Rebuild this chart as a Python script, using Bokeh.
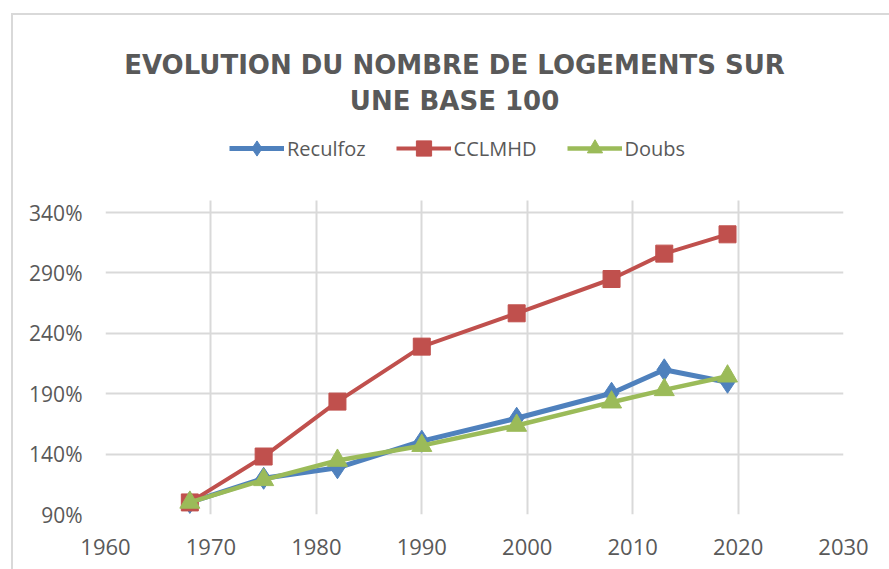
from bokeh.plotting import figure
from bokeh.models import FixedTicker, Legend, LegendItem, Label, Range1d
from bokeh.embed import file_html
from bokeh.resources import INLINE

years = [1968, 1975, 1982, 1990, 1999, 2008, 2013, 2019]
reculfoz = [100, 120, 128.7, 150.7, 169.7, 190.4, 209.8, 199.5]
cclmhd = [100, 138, 183.5, 229, 256.6, 285, 306, 322]
doubs = [100, 118.7, 134.7, 147, 163.7, 183, 193.2, 204.5]

x_ticks = [1960, 1970, 1980, 1990, 2000, 2010, 2020, 2030]
y_ticks = [90, 140, 190, 240, 290, 340]
y_tick_labels = ["90%", "140%", "190%", "240%", "290%", "340%"]
title_lines = ["EVOLUTION DU NOMBRE DE LOGEMENTS SUR", "UNE BASE 100"]
series_names = ["Reculfoz", "CCLMHD", "Doubs"]

BLUE = "#4F81BD"
RED = "#C0504D"
GREEN = "#9BBB59"
GRID = "#d9d9d9"
TEXT = "#595959"
W, H = 889, 569

# layout geometry (pixels)
FL, FR, FB = 105, 843, 514          # frame left / right / bottom
AX_TOP = 200                        # top of the gridded plot area
X0, X1 = 1960, 2030
Y0, Y1 = 90, 350
y_per_px = (Y1 - Y0) / (FB - AX_TOP)
x_per_px = (X1 - X0) / (FR - FL)
y_top = Y0 + FB * y_per_px          # frame extends to top of canvas


def dx(px):
    return X0 + (px - FL) * x_per_px


def dy(py):
    return Y0 + (FB - py) * y_per_px


p = figure(width=W, height=H, output_backend="svg", toolbar_location=None, title=None,
           x_range=Range1d(X0, X1), y_range=Range1d(Y0, y_top),
           min_border_left=FL, min_border_right=W - FR, min_border_top=0,
           min_border_bottom=H - FB)
p.outline_line_color = None
p.background_fill_color = None
p.border_fill_color = None
p.styles = {
    "background": ("linear-gradient(#d9d9d9, #d9d9d9) 11px 13px / 100% 2px no-repeat, "
                   "linear-gradient(#d9d9d9, #d9d9d9) 11px 13px / 2px 100% no-repeat, white"),
}

p.xaxis.ticker = FixedTicker(ticks=x_ticks)
p.yaxis.ticker = FixedTicker(ticks=y_ticks)
p.yaxis.major_label_overrides = {t: l for t, l in zip(y_ticks, y_tick_labels)}
for ax in (p.xaxis, p.yaxis):
    ax.axis_line_color = None
    ax.major_tick_line_color = None
    ax.minor_tick_line_color = None
    ax.major_label_text_color = TEXT
    ax.major_label_text_font = "Open Sans"
p.xaxis.major_label_text_font_size = "22px"
p.yaxis.major_label_text_font_size = "21px"
p.xaxis.major_label_standoff = 18
p.yaxis.major_label_standoff = 17

p.xgrid.ticker = FixedTicker(ticks=x_ticks)
p.ygrid.ticker = FixedTicker(ticks=y_ticks)
for g in (p.xgrid, p.ygrid):
    g.grid_line_color = GRID
    g.grid_line_width = 2
xg = p.xgrid[0]
if "cross_bounds" in xg.properties():
    xg.cross_bounds = (Y0, Y1)
else:
    xg.grid_line_color = None
    p.segment(x0=x_ticks, y0=[Y0] * len(x_ticks), x1=x_ticks, y1=[Y1] * len(x_ticks),
              line_color=GRID, line_width=2)

l1 = p.line(years, reculfoz, line_color=BLUE, line_width=5)
m1 = p.scatter(years, reculfoz, marker="diamond", size=22, fill_color=BLUE, line_color=BLUE)
l2 = p.line(years, cclmhd, line_color=RED, line_width=4)
m2 = p.scatter(years, cclmhd, marker="square", size=17, fill_color=RED, line_color=RED)
l3 = p.line(years, doubs, line_color=GREEN, line_width=4.5)
m3 = p.scatter(years, doubs, marker="triangle", size=20, fill_color=GREEN, line_color=GREEN)

GH = 38
legend = Legend(items=[LegendItem(label=series_names[0], renderers=[l1, m1]),
                       LegendItem(label=series_names[1], renderers=[l2, m2]),
                       LegendItem(label=series_names[2], renderers=[l3, m3])],
                orientation="horizontal", location=(229 - FL, FB - 148 - GH / 2),
                border_line_color=None, background_fill_alpha=0,
                label_text_font="Open Sans", label_text_font_size="20px",
                label_text_color=TEXT, glyph_width=55, glyph_height=GH,
                label_standoff=3, spacing=30, margin=0, padding=0)
p.add_layout(legend)

for txt, cy in zip(title_lines, [64, 100]):
    p.add_layout(Label(x=dx(454), y=dy(cy), text=txt, text_align="center",
                       text_baseline="middle", text_font="DejaVu Sans",
                       text_font_style="bold", text_font_size="26px", text_color=TEXT))

open("out.html", "w").write(file_html(p, INLINE))
